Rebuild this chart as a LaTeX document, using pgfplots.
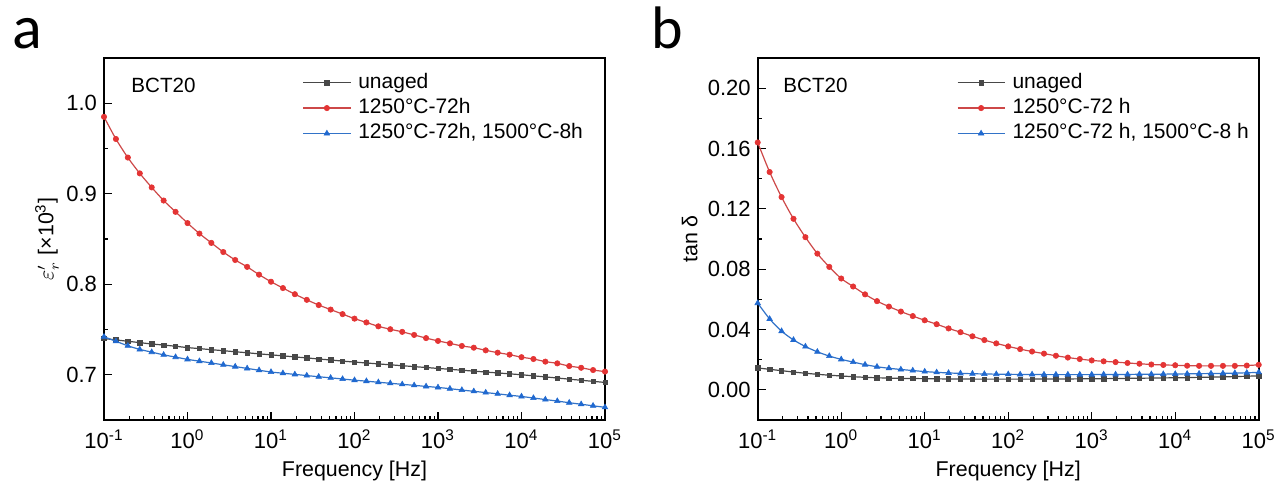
\documentclass[border=0pt]{standalone}
\usepackage{fontspec}
\setmainfont{Liberation Sans}
\newfontfamily\letterfont{Carlito}
\usepackage{pgfplots}
\usepackage{pgfplotstable}
\pgfplotsset{compat=1.18}

\definecolor{cgray}{RGB}{72,72,72}
\definecolor{cred}{RGB}{228,52,52}
\definecolor{credl}{RGB}{205,72,72}
\definecolor{cblue}{RGB}{32,105,208}
\definecolor{cbluel}{RGB}{50,115,200}

% permittivity (x10^3)
\pgfplotstableread{
f un A B
0.1 0.7400 0.9850 0.7420
0.13895 0.7385 0.9605 0.7370
0.19307 0.7370 0.9400 0.7320
0.26827 0.7355 0.9225 0.7280
0.37276 0.7340 0.9070 0.7250
0.51795 0.7328 0.8925 0.7220
0.71969 0.7315 0.8800 0.7195
1 0.7300 0.8676 0.7170
1.3895 0.7289 0.8560 0.7150
1.9307 0.7277 0.8457 0.7130
2.6827 0.7266 0.8356 0.7110
3.7276 0.7254 0.8268 0.7090
5.1795 0.7243 0.8192 0.7070
7.1969 0.7231 0.8106 0.7050
10 0.7220 0.8028 0.7030
13.895 0.7209 0.7958 0.7017
19.307 0.7197 0.7890 0.7004
26.827 0.7186 0.7828 0.6991
37.276 0.7174 0.7770 0.6978
51.795 0.7163 0.7720 0.6966
71.969 0.7151 0.7670 0.6953
100 0.7140 0.7620 0.6940
138.95 0.7130 0.7578 0.6929
193.07 0.7120 0.7535 0.6917
268.27 0.7110 0.7503 0.6906
372.76 0.7100 0.7474 0.6894
517.95 0.7090 0.7440 0.6883
719.69 0.7080 0.7405 0.6871
1000 0.7070 0.7374 0.6860
1389.5 0.7060 0.7347 0.6846
1930.7 0.7050 0.7318 0.6831
2682.7 0.7040 0.7299 0.6817
3727.6 0.7030 0.7270 0.6803
5179.5 0.7020 0.7244 0.6789
7196.9 0.7010 0.7222 0.6774
10000 0.7000 0.7194 0.6760
13895 0.6988 0.7174 0.6743
19307 0.6976 0.7145 0.6726
26827 0.6964 0.7126 0.6709
37276 0.6951 0.7096 0.6691
51795 0.6939 0.7077 0.6674
71969 0.6927 0.7052 0.6657
100000 0.6915 0.7035 0.6640
}\tabeps

% loss tangent
\pgfplotstableread{
f un A B
0.1 0.0145 0.1640 0.0575
0.13895 0.0136 0.1444 0.0470
0.19307 0.0127 0.1278 0.0389
0.26827 0.0118 0.1134 0.0331
0.37276 0.0110 0.1012 0.0287
0.51795 0.0103 0.0903 0.0252
0.71969 0.0097 0.0815 0.0224
1 0.0092 0.0738 0.0202
1.3895 0.0087 0.0685 0.0184
1.9307 0.0083 0.0633 0.0167
2.6827 0.0080 0.0588 0.0153
3.7276 0.0078 0.0552 0.0143
5.1795 0.0076 0.0519 0.0135
7.1969 0.0075 0.0489 0.0128
10 0.0074 0.0461 0.0121
13.895 0.0073 0.0435 0.0116
19.307 0.0072 0.0407 0.0112
26.827 0.0072 0.0382 0.0109
37.276 0.0071 0.0355 0.0107
51.795 0.0071 0.0330 0.0105
71.969 0.0071 0.0308 0.0104
100 0.0071 0.0288 0.0103
138.95 0.0071 0.0270 0.0102
193.07 0.0071 0.0254 0.0102
268.27 0.0072 0.0240 0.0101
372.76 0.0072 0.0226 0.0101
517.95 0.0072 0.0214 0.0101
719.69 0.0073 0.0204 0.0101
1000 0.0073 0.0195 0.0101
1389.5 0.0074 0.0189 0.0102
1930.7 0.0075 0.0184 0.0102
2682.7 0.0076 0.0178 0.0102
3727.6 0.0077 0.0173 0.0103
5179.5 0.0078 0.0168 0.0103
7196.9 0.0079 0.0165 0.0104
10000 0.0080 0.0163 0.0105
13895 0.0081 0.0160 0.0106
19307 0.0083 0.0159 0.0107
26827 0.0084 0.0159 0.0108
37276 0.0086 0.0159 0.0109
51795 0.0088 0.0159 0.0111
71969 0.0090 0.0161 0.0113
100000 0.0093 0.0166 0.0116
}\tabtan

\pgfplotsset{
  sgray/.style={cgray, line width=0.6pt, smooth, mark=square*, mark size=1.1pt, mark options={solid, fill=cgray, line width=0.3pt}},
  sred/.style={credl, line width=0.6pt, smooth, mark=*, mark size=1.35pt, mark options={solid, draw=cred, fill=cred, line width=0.3pt}},
  sblue/.style={cbluel, line width=0.6pt, smooth, mark=triangle*, mark size=1.6pt, mark options={solid, draw=cblue, fill=cblue, line width=0.3pt}},
}

\begin{document}
\begin{tikzpicture}
\useasboundingbox (-52pt,-30.5pt) rectangle (586.5pt,210pt);

\begin{axis}[at={(0pt,0pt)}, anchor=south west,
    width=250.5pt, height=181pt, scale only axis,
    xmode=log, xmin=0.1, xmax=100000,
    xtick={0.1,1,10,100,1000,10000,100000},
    xticklabels={10\textsuperscript{-1},10\textsuperscript{0},10\textsuperscript{1},10\textsuperscript{2},10\textsuperscript{3},10\textsuperscript{4},10\textsuperscript{5}},
    minor xtick={0.2,0.3,0.4,0.5,0.6,0.7,0.8,0.9,2,3,4,5,6,7,8,9,20,30,40,50,60,70,80,90,200,300,400,500,600,700,800,900,2000,3000,4000,5000,6000,7000,8000,9000,20000,30000,40000,50000,60000,70000,80000,90000},
    xtick pos=bottom, ytick pos=left, tick align=inside,
    major tick length=4pt, minor tick length=2.2pt,
    axis line style={line width=0.9pt},
    every tick/.style={black, line width=0.6pt},
    minor y tick num=1,
    tick label style={font=\fontsize{11}{12}\selectfont, black},
    xticklabel style={anchor=base, yshift=-14.4pt},
    label style={font=\fontsize{10.7}{12}\selectfont},
    xlabel={Frequency [Hz]},
    xlabel style={at={(axis description cs:0.5,-0.155)}, anchor=base},
    clip mode=individual,
    legend cell align=left,
    legend image code/.code={\draw[#1, mark repeat=2, mark phase=2] plot coordinates {(0pt,0pt) (11.75pt,0pt) (23.5pt,0pt)};},
    legend style={draw=none, fill=none, inner sep=0pt, row sep=0pt, column sep=2.4pt,
      font=\fontsize{10.5}{12}\selectfont, anchor=north west,
      nodes={inner sep=1.25pt, text height=7.8pt, text depth=2.4pt}, at={(0.396,0.968)}},
  ymin=0.65, ymax=1.05, ytick={0.7,0.8,0.9,1.0},
  yticklabel style={/pgf/number format/.cd, fixed, fixed zerofill, precision=1, assume math mode=true},
  ylabel={$\varepsilon_r'$ [×10\textsuperscript{3}]},
  ylabel style={at={(axis description cs:-0.1138,0.5)}, anchor=center},
]
\addplot[sgray] table[x=f,y=un]{\tabeps};
\addlegendentry{unaged}
\addplot[sred] table[x=f,y=A]{\tabeps};
\addlegendentry{1250°C-72h}
\addplot[sblue] table[x=f,y=B]{\tabeps};
\addlegendentry{1250°C-72h, 1500°C-8h}
\node[anchor=base west, font=\fontsize{10.3}{12}\selectfont, inner sep=0pt] at (axis description cs:0.054,0.904) {BCT20};
\end{axis}

\begin{axis}[at={(326.85pt,0pt)}, anchor=south west,
    width=250.5pt, height=181pt, scale only axis,
    xmode=log, xmin=0.1, xmax=100000,
    xtick={0.1,1,10,100,1000,10000,100000},
    xticklabels={10\textsuperscript{-1},10\textsuperscript{0},10\textsuperscript{1},10\textsuperscript{2},10\textsuperscript{3},10\textsuperscript{4},10\textsuperscript{5}},
    minor xtick={0.2,0.3,0.4,0.5,0.6,0.7,0.8,0.9,2,3,4,5,6,7,8,9,20,30,40,50,60,70,80,90,200,300,400,500,600,700,800,900,2000,3000,4000,5000,6000,7000,8000,9000,20000,30000,40000,50000,60000,70000,80000,90000},
    xtick pos=bottom, ytick pos=left, tick align=inside,
    major tick length=4pt, minor tick length=2.2pt,
    axis line style={line width=0.9pt},
    every tick/.style={black, line width=0.6pt},
    minor y tick num=1,
    tick label style={font=\fontsize{11}{12}\selectfont, black},
    xticklabel style={anchor=base, yshift=-14.4pt},
    label style={font=\fontsize{10.7}{12}\selectfont},
    xlabel={Frequency [Hz]},
    xlabel style={at={(axis description cs:0.5,-0.155)}, anchor=base},
    clip mode=individual,
    legend cell align=left,
    legend image code/.code={\draw[#1, mark repeat=2, mark phase=2] plot coordinates {(0pt,0pt) (11.75pt,0pt) (23.5pt,0pt)};},
    legend style={draw=none, fill=none, inner sep=0pt, row sep=0pt, column sep=2.4pt,
      font=\fontsize{10.5}{12}\selectfont, anchor=north west,
      nodes={inner sep=1.25pt, text height=7.8pt, text depth=2.4pt}, at={(0.397,0.968)}},
  ymin=-0.02, ymax=0.22, ytick={0,0.04,0.08,0.12,0.16,0.20},
  yticklabel style={/pgf/number format/.cd, fixed, fixed zerofill, precision=2, assume math mode=true},
  ylabel={tan δ},
  ylabel style={at={(axis description cs:-0.1357,0.5)}, anchor=center},
]
\addplot[sgray] table[x=f,y=un]{\tabtan};
\addlegendentry{unaged}
\addplot[sred] table[x=f,y=A]{\tabtan};
\addlegendentry{1250°C-72 h}
\addplot[sblue] table[x=f,y=B]{\tabtan};
\addlegendentry{1250°C-72 h, 1500°C-8 h}
\node[anchor=base west, font=\fontsize{10.3}{12}\selectfont, inner sep=0pt] at (axis description cs:0.0505,0.904) {BCT20};
\end{axis}

\node[anchor=base west, inner sep=0pt, font=\letterfont\fontsize{31}{31}\selectfont] at (-46pt,185.5pt) {a};
\node[anchor=base west, inner sep=0pt, font=\letterfont\fontsize{30}{30}\selectfont] at (273.6pt,185.5pt) {b};
\end{tikzpicture}
\end{document}
